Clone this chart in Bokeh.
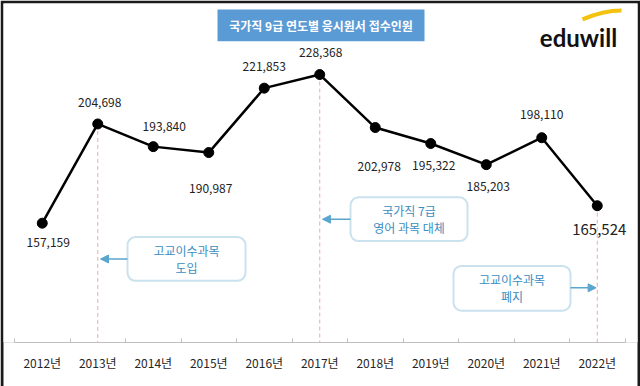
from bokeh.plotting import figure
from bokeh.models import (ColumnDataSource, Range1d, FixedTicker, BoxAnnotation,
                          Label, Arrow, NormalHead)
from bokeh.core.properties import value
from bokeh.embed import file_html
from bokeh.resources import INLINE

# ---------------- data ----------------
years = ["2012년", "2013년", "2014년", "2015년", "2016년", "2017년",
         "2018년", "2019년", "2020년", "2021년", "2022년"]
applicants = [157159, 204698, 193840, 190987, 221853, 228368,
              202978, 195322, 185203, 198110, 165524]
title_text = "국가직 9급 연도별 응시원서 접수인원"
marked_years = ["2013년", "2017년", "2022년"]
notes = ["고교이수과목\n도입", "국가직 7급\n영어 과목 대체", "고교이수과목\n폐지"]
logo_text = "eduwill"

# ---------------- style / layout ----------------
FONT = "Noto Sans CJK KR"
NOTE_COLOR = "#3A8DC1"
BOX_LINE = "#4E9CC6"
ARROW_COLOR = "#5AA6CF"
# label offsets in pixels (dx, dy downwards) and sizes
label_dx = [6, 2, 11, 2, 0, 1, 4, 3, 2, 0, 2]
label_dy = [19, -21, -20, 36, -22, -22, 39, 22, 22, -23, 24]
label_size = ["12px"] * 10 + ["15px"]

W, H = 640, 386
B = 3            # black outer frame thickness
AXIS_Y = 344     # pixel row of the x axis line
Y0 = 100000
PX_PER_UNIT = 333 / 158600
Y1 = Y0 + (AXIS_Y - B) / PX_PER_UNIT


# pixel helpers for annotation layout (image pixel -> data)
def dx(px):
    return (px - 41.75) / 55.5


def dy(py):
    return Y0 + (AXIS_Y - py) / PX_PER_UNIT


xs = list(range(len(years)))
src = ColumnDataSource(dict(
    x=xs, y=applicants, label=[f"{v:,}" for v in applicants],
    xo=label_dx, yo=label_dy, fs=label_size,
))

p = figure(width=W, height=H, output_backend="svg", toolbar_location=None,
           x_range=Range1d(dx(B), dx(W - B)), y_range=Range1d(Y0, Y1),
           y_axis_location=None, min_border_left=B, min_border_right=B,
           min_border_top=B, min_border_bottom=H - AXIS_Y)
p.border_fill_color = "#1a1a1a"
p.outline_line_color = None
p.xgrid.visible = False
p.ygrid.visible = False
p.background_fill_color = "white"

ax = p.xaxis[0]
ax.background_fill_color = "white"
ax.bounds = (-0.5, len(years) - 0.5)
ax.ticker = FixedTicker(ticks=xs, minor_ticks=[i - 0.5 for i in range(len(years) + 1)])
ax.major_label_overrides = {i: y for i, y in enumerate(years)}
ax.major_tick_in = 0
ax.major_tick_out = 0
ax.minor_tick_in = 4
ax.minor_tick_out = 0
ax.minor_tick_line_color = "#BFBFBF"
ax.axis_line_color = "#BFBFBF"
ax.major_label_text_font = FONT
ax.major_label_text_font_size = "12px"
ax.major_label_text_color = "#262626"
ax.major_label_standoff = 11
# blank axis label used only as white spacer down to the outer frame
ax.axis_label = " "
ax.axis_label_standoff = 0
ax.axis_label_text_font = FONT
ax.axis_label_text_font_size = "7px"

# dashed marker lines from point to axis
mx = [years.index(m) for m in marked_years]
my = [applicants[i] for i in mx]
p.segment(x0=mx, x1=mx, y0=my, y1=[Y0] * len(mx), line_color="#F2A7A7",
          line_width=1, line_dash="4 3")

# main line & points
p.line("x", "y", source=src, line_color="black", line_width=2.5)
p.scatter("x", "y", source=src, size=10, color="black")

# data labels
p.text("x", "y", text="label", source=src, x_offset="xo", y_offset="yo",
       text_font=value(FONT), text_font_size="fs", text_color="#222222",
       text_align="center", text_baseline="middle")

# title box
p.add_layout(BoxAnnotation(left=dx(217), right=dx(424), top=dy(9), bottom=dy(41),
                           fill_color="#5B9BD5", fill_alpha=1, line_color=None))
p.add_layout(Label(x=dx(320.5), y=dy(25), text=title_text, text_font=FONT,
                   text_font_size="12px", text_font_style="bold", text_color="white",
                   text_align="center", text_baseline="middle"))

# logo
p.bezier(x0=[dx(582)], y0=[dy(19)], x1=[dx(621)], y1=[dy(10)],
         cx0=[dx(598)], cy0=[dy(12)], cx1=[dx(612)], cy1=[dy(10)],
         line_color="#F3C20F", line_width=4)
p.add_layout(Label(x=dx(578), y=dy(37), text=logo_text, text_font="Lato",
                   text_font_size="24px", text_font_style="bold", text_color="#111111",
                   text_align="center", text_baseline="alphabetic"))

# note boxes: (left, right, top, bottom) px, arrow y px, side
boxes = [
    (127, 245, 238, 282, 260, "left"),
    (350, 467, 198, 242, 220, "left"),
    (453, 570, 267, 312, 289, "right"),
]
for (l, r, t, b, ay, side), note, m in zip(boxes, notes, mx):
    p.add_layout(BoxAnnotation(left=dx(l), right=dx(r), top=dy(t), bottom=dy(b),
                               fill_color="white", fill_alpha=1, line_color=BOX_LINE,
                               line_width=2, border_radius=8))
    p.add_layout(Label(x=dx((l + r) / 2), y=dy((t + b) / 2), text=note, text_font=FONT,
                       text_font_size="12px", text_color=NOTE_COLOR, text_align="center",
                       text_baseline="middle", text_line_height=1.0))
    xstart = dx(l) if side == "left" else dx(r)
    p.add_layout(Arrow(x_start=xstart, y_start=dy(ay), x_end=m + (0.05 if side == "left" else -0.02),
                       y_end=dy(ay), line_color=ARROW_COLOR, line_width=1.5,
                       end=NormalHead(size=8, fill_color=ARROW_COLOR, line_color=ARROW_COLOR)))

open("out.html", "w").write(file_html(p, INLINE))
